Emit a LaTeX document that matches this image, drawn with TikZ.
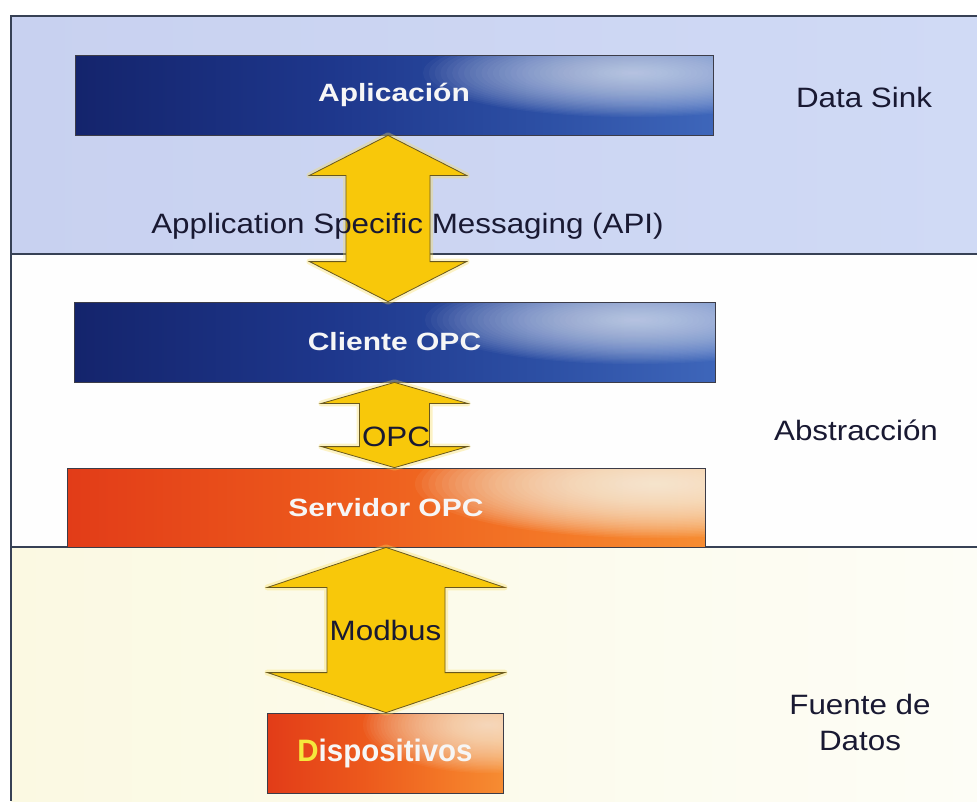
\documentclass[tikz,border=0pt]{standalone}
\usepackage{fontspec}
\setmainfont{Liberation Sans}
\newfontfamily\lblfont[FakeStretch=1.12]{Liberation Sans}
\newfontfamily\boxfont[FakeStretch=1.2]{Liberation Sans}
\newfontfamily\devfont[FakeStretch=0.95]{Liberation Sans}
\usetikzlibrary{calc}

% palette
\definecolor{bandBlueL}{RGB}{200,209,240}
\definecolor{bandBlueR}{RGB}{208,218,245}
\definecolor{bandWhite}{RGB}{254,254,254}
\definecolor{creamL}{RGB}{251,249,226}
\definecolor{creamR}{RGB}{253,253,246}
\definecolor{frameInk}{RGB}{55,65,85}
\definecolor{labelInk}{RGB}{25,25,50}
\definecolor{navyA}{RGB}{20,36,108}
\definecolor{navyB}{RGB}{30,55,140}
\definecolor{navyC}{RGB}{45,80,165}
\definecolor{navyD}{RGB}{62,102,186}
\definecolor{glowBlue}{RGB}{232,238,250}
\definecolor{orangeA}{RGB}{226,60,24}
\definecolor{orangeB}{RGB}{236,88,28}
\definecolor{orangeC}{RGB}{243,118,38}
\definecolor{orangeD}{RGB}{246,140,50}
\definecolor{glowOrange}{RGB}{255,248,232}
\definecolor{arrowYellow}{RGB}{248,200,10}
\definecolor{arrowEdge}{RGB}{105,88,30}
\definecolor{haloYellow}{RGB}{250,222,90}
\definecolor{boxEdge}{RGB}{60,60,72}
\definecolor{labelWhite}{RGB}{246,246,246}
\definecolor{devYellow}{RGB}{245,232,60}

% box gradients (the path's bounding box spans 25bp..75bp)
\pgfdeclarehorizontalshading{blueboxshade}{100bp}{color(0bp)=(navyA); color(25bp)=(navyA); color(45bp)=(navyB); color(62bp)=(navyC); color(75bp)=(navyD); color(100bp)=(navyD)}
\pgfdeclarehorizontalshading{orangeboxshade}{100bp}{color(0bp)=(orangeA); color(25bp)=(orangeA); color(45bp)=(orangeB); color(62bp)=(orangeC); color(75bp)=(orangeD); color(100bp)=(orangeD)}

% soft highlight built from stacked translucent ellipses:
% #1 colour, #2 centre, #3 x radius, #4 y radius, #5 opacity per layer
\newcommand\softglow[5]{%
  \foreach \k in {1,...,36}{%
    \fill[#1, fill opacity=#5] (#2) ellipse [x radius={#3*\k/36}, y radius={#4*\k/36}];}}

\tikzset{
  frame/.style={draw=frameInk, line width=1.2pt},
  lbl/.style={font=\lblfont\fontsize{28}{36}\selectfont, text=labelInk, inner sep=0pt},
  boxbase/.style={draw=boxEdge, line width=0.8pt, inner sep=0pt, text=labelWhite,
    font=\boxfont\bfseries\fontsize{25}{30}\selectfont},
  bluebox/.style={boxbase, shading=blueboxshade,
    path picture={\softglow{glowBlue}{$(path picture bounding box.north east)+(-80,18)$}{210}{44}{0.038}}},
  orangebox/.style={boxbase, shading=orangeboxshade,
    path picture={\softglow{glowOrange}{$(path picture bounding box.north east)+(-50,16)$}{240}{54}{0.058}}},
  devbox/.style={boxbase, shading=orangeboxshade, font=\devfont\bfseries\fontsize{31}{34}\selectfont,
    path picture={\softglow{glowOrange}{$(path picture bounding box.north east)+(-15,12)$}{125}{48}{0.045}}},
  arrowshape/.style={fill=arrowYellow, draw=arrowEdge, line width=0.8pt, line join=miter,
    preaction={draw=haloYellow, line width=6pt, draw opacity=0.35, line join=round}},
}

% double-headed block arrow between two tips: #1 top tip, #2 bottom tip,
% #3 half head width, #4 half shaft width, #5 head length (all in pt)
\newcommand\twoway[5]{%
  \path[arrowshape] let \p1=(#1), \p2=(#2) in
    (\x1,\y1) -- (\x1+#3pt,\y1-#5pt) -- (\x1+#4pt,\y1-#5pt) -- (\x1+#4pt,\y2+#5pt)
    -- (\x1+#3pt,\y2+#5pt) -- (\x1,\y2) -- (\x1-#3pt,\y2+#5pt) -- (\x1-#4pt,\y2+#5pt)
    -- (\x1-#4pt,\y1-#5pt) -- (\x1-#3pt,\y1-#5pt) -- cycle;}

\begin{document}
\begin{tikzpicture}[x=1pt, y=-1pt]
\useasboundingbox (0,0) rectangle (977,801);
\fill[white] (0,0) rectangle (977,801);

% layer bands
\shade[left color=bandBlueL, right color=bandBlueR] (11,16) rectangle (977,254);
\fill[bandWhite] (11,254) rectangle (977,547);
\shade[left color=creamL, right color=creamR] (11,547) rectangle (977,801);
\draw[frame] (977,16) -- (11,16) -- (11,801);
\draw[frame] (11,254) -- (977,254);
\draw[frame] (11,547) -- (977,547);

% components
\node[bluebox, minimum width=638pt, minimum height=80pt] (apl) at (394,95) {Aplicación};
\node[bluebox, minimum width=641pt, minimum height=80pt] (cli) at (394.5,342) {Cliente OPC};
\node[orangebox, minimum width=638pt, minimum height=79pt] (srv) at (386,507.5) {Servidor OPC};
\node[devbox, minimum width=236pt, minimum height=80pt] (dev) at (385,753) {{\color{devYellow}D}ispositivos};

% interfaces
\coordinate (apiTop) at ($(apl.south)+(-6,0)$);
\twoway{apiTop}{cli.north}{78.5}{42}{40}
\twoway{cli.south}{srv.north}{73}{35}{21}
\twoway{srv.south}{dev.north}{118.5}{59}{40}

\node[lbl, anchor=base] (apiLbl) at (407.5,233) {Application Specific Messaging (API)};
\node[lbl, anchor=base] (opcLbl) at (396,446) {OPC};
\node[lbl, anchor=base] (modLbl) at (385.5,640) {Modbus};

% layer names
\node[lbl, anchor=base] (sinkLbl) at (864,107) {Data Sink};
\node[lbl, anchor=base] (absLbl) at (856,440) {Abstracción};
\node[lbl, align=center] (srcLbl) at (860,722) {Fuente de\\Datos};
\end{tikzpicture}
\end{document}
